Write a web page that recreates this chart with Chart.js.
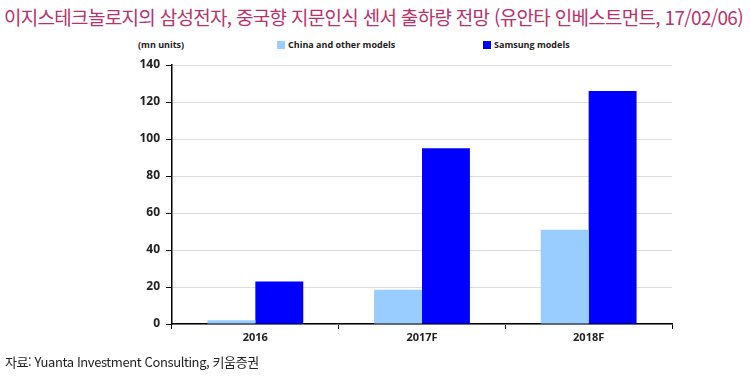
<!DOCTYPE html>
<html lang="ko">
<head>
<meta charset="UTF-8">
<title>삼성전자, 중국향 지문인식 센서 출하량 전망</title>
<script src="https://cdn.jsdelivr.net/npm/chart.js"></script>
<style>
    html, body { margin: 0; padding: 0; background: #fff; }
    .wrap { position: relative; width: 750px; height: 378px; overflow: hidden; }
    .title {
        position: absolute; left: 4px; top: 3px;
        font-family: "Noto Sans CJK KR", sans-serif; font-weight: 400;
        font-size: 19px; color: #b8326e; letter-spacing: -0.7px; white-space: nowrap;
    }
    .unit, .leg {
        position: absolute; top: 38px;
        font-family: "Open Sans", "Liberation Sans", sans-serif; font-weight: 700;
        font-size: 9px; color: #222;
    }
    .leg span { display: inline-block; width: 8px; height: 8px; margin-right: 3px; vertical-align: -1px; }
    .source {
        position: absolute; left: 5px; top: 352px;
        font-family: "Noto Sans CJK KR", sans-serif; font-weight: 400;
        font-size: 13px; color: #222; letter-spacing: -0.4px;
    }
    canvas { position: absolute; left: 0; top: 0; }
</style>
</head>
<body>
<div class="wrap">
    <div class="title">이지스테크놀로지의 삼성전자, 중국향 지문인식 센서 출하량 전망 (유안타 인베스트먼트, 17/02/06)</div>
    <div class="unit" style="left:138px">(mn units)</div>
    <div class="leg" style="left:277px"><span style="background:#99ccff"></span>China and other models</div>
    <div class="leg" style="left:483px"><span style="background:#0000ff"></span>Samsung models</div>
    <canvas id="chart" width="750" height="378"></canvas>
    <div class="source">자료: Yuanta Investment Consulting, 키움증권</div>
</div>
<script>
    const years = ['2016', '2017F', '2018F'];
    const chinaOther = [2, 18.5, 51];
    const samsung = [23, 95, 126];

    const ctx = document.getElementById('chart').getContext('2d');
    new Chart(ctx, {
        type: 'bar',
        data: {
            labels: years,
            datasets: [{
                label: 'China and other models',
                data: chinaOther,
                backgroundColor: '#99ccff',
                categoryPercentage: 0.575,
                barPercentage: 1
            }, {
                label: 'Samsung models',
                data: samsung,
                backgroundColor: '#0000ff',
                categoryPercentage: 0.575,
                barPercentage: 1
            }]
        },
        options: {
            responsive: false,
            animation: false,
            layout: { padding: { top: 65, left: 130, right: 78, bottom: 30 } },
            plugins: { legend: { display: false }, tooltip: { enabled: false } },
            scales: {
                x: {
                    grid: { drawOnChartArea: false, offset: true, tickLength: 5, color: '#000' },
                    border: { color: '#000', width: 1.5 },
                    ticks: { color: '#222', font: { family: 'Open Sans', weight: 'bold', size: 11 }, padding: 2 },
                    afterFit: s => { s.height = 24; }
                },
                y: {
                    min: 0, max: 140,
                    ticks: { stepSize: 20, color: '#222', font: { family: 'Open Sans', weight: 'bold', size: 12 }, padding: 6 },
                    grid: { color: '#dcdcdc', tickColor: '#000', tickLength: 6 },
                    border: { color: '#000', width: 1.5 },
                    afterFit: s => { s.width = 42; }
                }
            }
        }
    });
</script>
</body>
</html>
